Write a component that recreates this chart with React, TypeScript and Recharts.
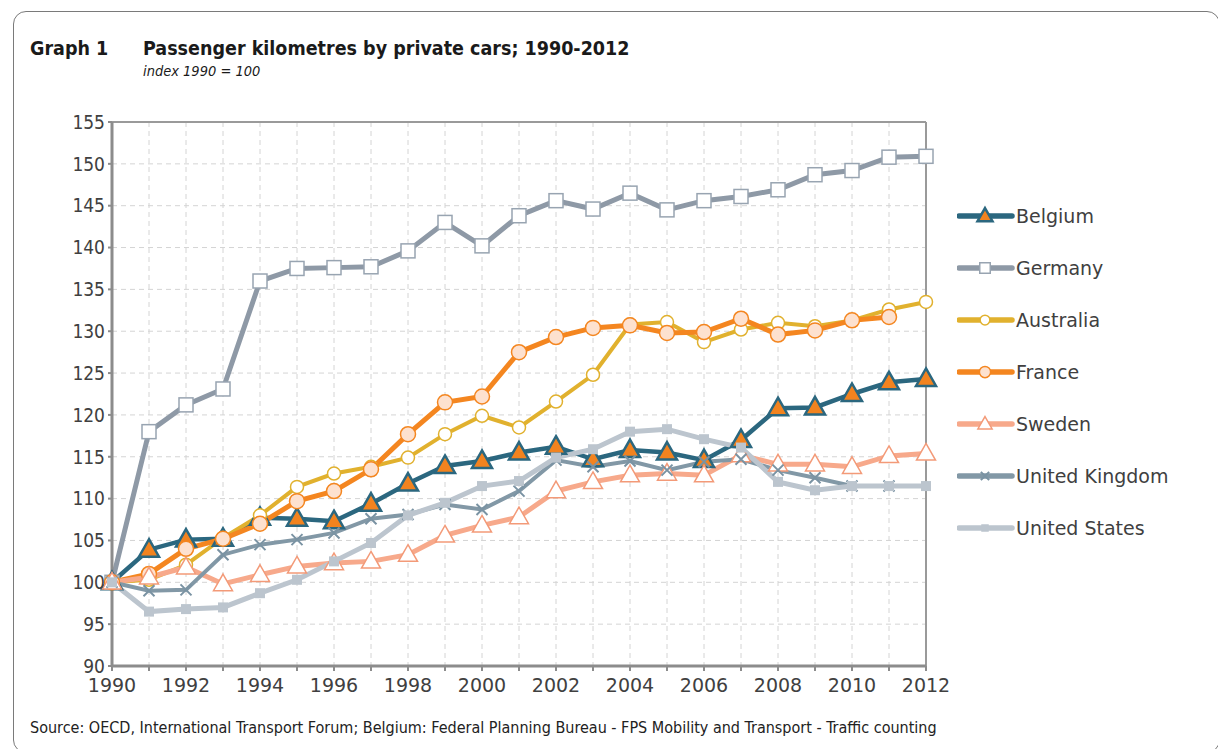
import React from "react";
import { LineChart, Line, XAxis, YAxis, CartesianGrid, ReferenceLine } from "recharts";

// index 1990 = 100
const years = [
  1990, 1991, 1992, 1993, 1994, 1995, 1996, 1997, 1998, 1999, 2000, 2001,
  2002, 2003, 2004, 2005, 2006, 2007, 2008, 2009, 2010, 2011, 2012,
];
const belgium = [
  100, 103.9, 105.1, 105.2, 107.7, 107.6, 107.3, 109.4, 111.8, 113.9, 114.5, 115.5,
  116.2, 114.7, 115.8, 115.5, 114.6, 117.0, 120.8, 120.9, 122.5, 123.9, 124.3,
];
const germany = [
  100, 118.0, 121.2, 123.1, 136.0, 137.5, 137.6, 137.7, 139.6, 143.0, 140.2, 143.8,
  145.6, 144.6, 146.5, 144.5, 145.6, 146.1, 146.9, 148.7, 149.2, 150.8, 150.9,
];
const australia = [
  100, 100.3, 102.1, 105.3, 108.0, 111.4, 113.0, 113.8, 114.9, 117.7, 119.9, 118.5,
  121.6, 124.8, 130.8, 131.1, 128.7, 130.2, 131.0, 130.6, 131.3, 132.6, 133.5,
];
const france = [
  100, 101.0, 104.0, 105.2, 107.0, 109.7, 110.9, 113.5, 117.7, 121.5, 122.2, 127.5,
  129.3, 130.4, 130.7, 129.8, 129.9, 131.5, 129.6, 130.1, 131.3, 131.7, null,
];
const sweden = [
  100, 100.6, 101.8, 99.8, 100.9, 101.9, 102.3, 102.5, 103.3, 105.6, 106.8, 107.8,
  110.9, 112.0, 112.8, 113.0, 112.8, 115.2, 114.1, 114.1, 113.8, 115.1, 115.4,
];
const unitedKingdom = [
  100, 99.0, 99.1, 103.3, 104.5, 105.1, 105.9, 107.6, 108.1, 109.3, 108.7, 110.9,
  114.6, 113.8, 114.5, 113.4, 114.4, 114.7, 113.4, 112.5, 111.5, 111.5, null,
];
const unitedStates = [
  100, 96.5, 96.8, 97.0, 98.7, 100.3, 102.5, 104.7, 108.0, 109.5, 111.5, 112.1,
  114.9, 115.9, 118.0, 118.3, 117.1, 116.1, 112.0, 111.0, 111.5, 111.5, 111.5,
];
const yTicks = [90, 95, 100, 105, 110, 115, 120, 125, 130, 135, 140, 145, 150, 155];

type Marker = "triangle" | "square" | "circle" | "cross" | "dot";
type Series = {
  key: string;
  values: (number | null)[];
  color: string;
  width: number;
  marker: Marker;
  size: number;
  fill: string;
  edge: string;
  edgeWidth: number;
};

const series: Series[] = [
  { key: "Belgium", values: belgium, color: "#2b677f", width: 4.5, marker: "triangle", size: 20, fill: "#f2831f", edge: "#2b677f", edgeWidth: 2.5 },
  { key: "Germany", values: germany, color: "#8e99a6", width: 5, marker: "square", size: 14, fill: "#ffffff", edge: "#98a4b1", edgeWidth: 1.5 },
  { key: "Australia", values: australia, color: "#e1b12e", width: 4, marker: "circle", size: 13, fill: "#ffffff", edge: "#e1b12e", edgeWidth: 1.5 },
  { key: "France", values: france, color: "#f48620", width: 5, marker: "circle", size: 15, fill: "#fde1cf", edge: "#f48620", edgeWidth: 1.5 },
  { key: "Sweden", values: sweden, color: "#f7a98b", width: 5, marker: "triangle", size: 19, fill: "#ffffff", edge: "#f39a78", edgeWidth: 1.5 },
  { key: "United Kingdom", values: unitedKingdom, color: "#8298a6", width: 4, marker: "cross", size: 11, fill: "none", edge: "#7a93a3", edgeWidth: 2 },
  { key: "United States", values: unitedStates, color: "#bcc5ce", width: 5, marker: "dot", size: 10, fill: "#bcc5ce", edge: "#bcc5ce", edgeWidth: 0 },
];

const data = years.map((year, i) => {
  const row: Record<string, number | null> = { year };
  series.forEach((s) => (row[s.key] = s.values[i]));
  return row;
});

const FONT = '"DejaVu Sans", Verdana, sans-serif';
const NARROW = '"DejaVu Sans Condensed", "DejaVu Sans", sans-serif';

function drawMarker(s: Series, cx: number, cy: number, key?: React.Key) {
  const r = s.size / 2;
  switch (s.marker) {
    case "triangle":
      return (
        <polygon
          key={key}
          points={`${cx},${cy - r * 1.05} ${cx + r},${cy + r * 0.7} ${cx - r},${cy + r * 0.7}`}
          fill={s.fill}
          stroke={s.edge}
          strokeWidth={s.edgeWidth}
          strokeLinejoin="miter"
        />
      );
    case "square":
    case "dot":
      return (
        <rect key={key} x={cx - r} y={cy - r} width={s.size} height={s.size} fill={s.fill} stroke={s.edge} strokeWidth={s.edgeWidth} />
      );
    case "circle":
      return <circle key={key} cx={cx} cy={cy} r={r} fill={s.fill} stroke={s.edge} strokeWidth={s.edgeWidth} />;
    case "cross":
      return (
        <path key={key} d={`M${cx - r},${cy - r}L${cx + r},${cy + r}M${cx - r},${cy + r}L${cx + r},${cy - r}`} stroke={s.edge} strokeWidth={s.edgeWidth} />
      );
  }
}

function dotFor(s: Series) {
  return (props: any) => {
    const { cx, cy, index, value } = props;
    if (cx == null || cy == null || value == null) return <g key={index} />;
    return drawMarker(s, cx, cy, index);
  };
}

function LegendBox() {
  return (
    <div style={{ position: "absolute", left: 957, top: 203, fontFamily: FONT }}>
      {series.map((s, i) => (
        <div key={s.key} style={{ position: "absolute", top: i * 52, left: 0, height: 26, display: "flex", alignItems: "center", whiteSpace: "nowrap" }}>
          <svg width={58} height={26} style={{ display: "block" }}>
            <line x1={2} y1={13} x2={55} y2={13} stroke={s.color} strokeWidth={5.5} strokeLinecap="round" />
            {drawMarker({ ...s, size: s.size * 0.75 }, 28, 13)}
          </svg>
          <span style={{ fontSize: 19, color: "#404040", marginLeft: 1 }}>{s.key}</span>
        </div>
      ))}
    </div>
  );
}

export default function App() {
  return (
    <div style={{ position: "absolute", left: 0, top: 0, width: 1218, height: 749, overflow: "hidden", background: "#fff", fontFamily: FONT }}>
      <div style={{ position: "absolute", left: 13, top: 11, width: 1205, height: 740, border: "1px solid #7a7a7a", borderRadius: 13 }} />
      <div style={{ position: "absolute", left: 30, top: 37, fontFamily: NARROW, fontSize: 19.5, fontWeight: "bold", color: "#1a1a1a" }}>Graph 1</div>
      <div style={{ position: "absolute", left: 143, top: 37, fontFamily: NARROW, fontSize: 19.5, fontWeight: "bold", color: "#1a1a1a" }}>
        Passenger kilometres by private cars; 1990-2012
      </div>
      <div style={{ position: "absolute", left: 143, top: 63, fontFamily: NARROW, fontSize: 14.5, fontStyle: "italic", color: "#1a1a1a" }}>index 1990 = 100</div>

      <div style={{ position: "absolute", left: 0, top: 0 }}>
        <LineChart width={1218} height={749} data={data} margin={{ top: 122, right: 292, bottom: 53, left: 52 }} style={{ fontFamily: FONT }}>
          <CartesianGrid stroke="#d4d4d4" strokeDasharray="5 4" strokeWidth={1} />
          <XAxis
            dataKey="year"
            type="number"
            domain={[1990, 2012]}
            ticks={years}
            interval={0}
            tickFormatter={(v: number) => (v % 2 === 0 ? String(v) : "")}
            tick={{ fontSize: 19, fill: "#404040" }}
            tickSize={5}
            tickMargin={8}
            height={30}
            axisLine={{ stroke: "#8c8c8c", strokeWidth: 3 }}
            tickLine={{ stroke: "#8c8c8c", strokeWidth: 2 }}
          />
          <YAxis
            type="number"
            domain={[90, 155]}
            ticks={yTicks}
            interval={0}
            tick={{ fontSize: 19, fill: "#404040", fontFamily: NARROW }}
            tickSize={4}
            tickMargin={3}
            width={60}
            axisLine={{ stroke: "#8c8c8c", strokeWidth: 3 }}
            tickLine={{ stroke: "#8c8c8c", strokeWidth: 2 }}
          />
          <ReferenceLine y={155} stroke="#9a9a9a" strokeWidth={2} />
          <ReferenceLine x={2012} stroke="#9a9a9a" strokeWidth={2} />
          {series.map((s) => (
            <Line
              key={s.key}
              dataKey={s.key}
              type="linear"
              stroke={s.color}
              strokeWidth={s.width}
              dot={dotFor(s)}
              activeDot={false}
              connectNulls={false}
              isAnimationActive={false}
            />
          ))}
        </LineChart>
      </div>

      <LegendBox />

      <div style={{ position: "absolute", left: 30, top: 718, fontFamily: NARROW, fontSize: 16, color: "#222" }}>
        Source: OECD, International Transport Forum; Belgium: Federal Planning Bureau - FPS Mobility and Transport - Traffic counting
      </div>
    </div>
  );
}
